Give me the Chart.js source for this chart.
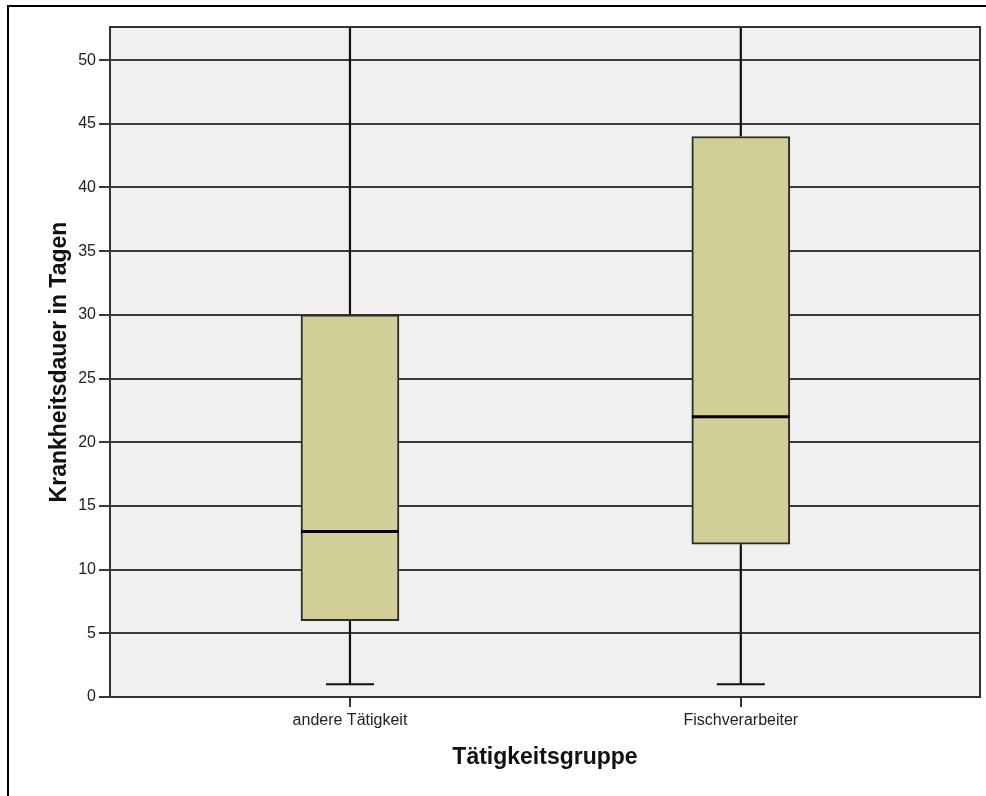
<!DOCTYPE html>
<html>
<head>
<meta charset="utf-8">
<script src="https://cdn.jsdelivr.net/npm/chart.js@4.4.1/dist/chart.umd.min.js"></script>
<style>
  body { margin: 0; background: #fff; }
  #wrap { position: relative; width: 986px; height: 796px; overflow: hidden; }
  #frame { position: absolute; left: 7px; top: 5px; width: 990px; height: 800px;
           border-top: 2px solid #000; border-left: 2px solid #000; pointer-events: none; }
</style>
</head>
<body>
<div id="wrap">
  <canvas id="box-chart" width="986" height="796"></canvas>
  <div id="frame"></div>
</div>
<script>
var categories = ['andere Tätigkeit', 'Fischverarbeiter'];
var whiskerLow = [1, 1];
var q1 = [6, 12];
var median = [13, 22];
var q3 = [30, 44];
var whiskerHigh = [52.6, 52.6];
var yMax = 52.6;
var yStep = 5;

var boxData = categories.map(function (c, i) {
  return { x: i + 1, y: [q1[i], q3[i]] };
});

var lineCol = '#333';

var boxExtras = {
  id: 'boxExtras',
  beforeDraw: function (chart) {
    var ctx = chart.ctx, a = chart.chartArea;
    ctx.save();
    ctx.fillStyle = '#f0f0f0';
    ctx.fillRect(a.left, a.top, a.right - a.left, a.bottom - a.top);
    ctx.restore();
  },
  beforeDatasetsDraw: function (chart) {
    var ctx = chart.ctx, a = chart.chartArea;
    var xs = chart.scales.x, ys = chart.scales.y;
    ctx.save();
    ctx.beginPath();
    ctx.rect(a.left, a.top, a.right - a.left, a.bottom - a.top);
    ctx.clip();
    ctx.strokeStyle = '#111';
    ctx.lineWidth = 2.2;
    for (var i = 0; i < categories.length; i++) {
      var cx = xs.getPixelForValue(i + 1);
      var lo = ys.getPixelForValue(whiskerLow[i]);
      var hi = ys.getPixelForValue(whiskerHigh[i]);
      var b1 = ys.getPixelForValue(q1[i]);
      var b3 = ys.getPixelForValue(q3[i]);
      ctx.beginPath();
      ctx.moveTo(cx, lo); ctx.lineTo(cx, b1);
      ctx.moveTo(cx, b3); ctx.lineTo(cx, hi);
      ctx.moveTo(cx - 24, lo); ctx.lineTo(cx + 24, lo);
      ctx.moveTo(cx - 24, hi); ctx.lineTo(cx + 24, hi);
      ctx.stroke();
    }
    ctx.restore();
  },
  afterDatasetsDraw: function (chart) {
    var ctx = chart.ctx;
    var xs = chart.scales.x, ys = chart.scales.y;
    var meta = chart.getDatasetMeta(0);
    ctx.save();
    ctx.strokeStyle = '#000';
    ctx.lineWidth = 3;
    for (var i = 0; i < categories.length; i++) {
      var cx = xs.getPixelForValue(i + 1);
      var w = meta.data[i].width;
      var my = ys.getPixelForValue(median[i]);
      ctx.beginPath();
      ctx.moveTo(cx - w / 2, my); ctx.lineTo(cx + w / 2, my);
      ctx.stroke();
    }
    ctx.restore();
  },
  afterDraw: function (chart) {
    var ctx = chart.ctx, a = chart.chartArea;
    ctx.save();
    ctx.strokeStyle = lineCol;
    ctx.lineWidth = 2;
    ctx.strokeRect(a.left, a.top, a.right - a.left, a.bottom - a.top);
    ctx.restore();
  }
};

new Chart(document.getElementById('box-chart'), {
  type: 'bar',
  data: {
    datasets: [{
      data: boxData,
      backgroundColor: '#d2ce97',
      borderColor: '#2b2b2b',
      borderWidth: 2,
      borderSkipped: false,
      barThickness: 98
    }]
  },
  options: {
    responsive: false,
    animation: false,
    devicePixelRatio: 1,
    layout: { padding: { top: 27, right: 6, left: 0, bottom: 0 } },
    plugins: { legend: { display: false }, tooltip: { enabled: false } },
    scales: {
      x: {
        type: 'linear',
        min: 0.386,
        max: 2.612,
        offset: false,
        afterFit: function (s) { s.height = 99; },
        afterBuildTicks: function (s) {
          s.ticks = categories.map(function (c, i) { return { value: i + 1 }; });
        },
        grid: { offset: false, drawOnChartArea: false, color: lineCol, lineWidth: 2, tickLength: 10 },
        border: { display: true, color: lineCol, width: 2 },
        ticks: {
          padding: 4,
          color: '#222',
          font: { family: '"Liberation Sans", Arial, sans-serif', size: 16 },
          callback: function (v) { return categories[v - 1]; }
        },
        title: {
          display: true,
          text: 'Tätigkeitsgruppe',
          color: '#111',
          padding: { top: 0, bottom: 25 },
          font: { family: '"Liberation Sans", Arial, sans-serif', size: 23, weight: 'bold' }
        }
      },
      y: {
        min: 0,
        max: yMax,
        afterFit: function (s) { s.width = 110; },
        grid: { color: '#3a3a3a', lineWidth: 2, tickLength: 11 },
        border: { display: true, color: lineCol, width: 2 },
        ticks: {
          stepSize: yStep,
          includeBounds: false,
          padding: 3,
          color: '#222',
          font: { family: '"Liberation Sans", Arial, sans-serif', size: 16 }
        },
        title: {
          display: true,
          text: 'Krankheitsdauer in Tagen',
          color: '#111',
          padding: { top: 46, bottom: 0 },
          font: { family: '"Liberation Sans", Arial, sans-serif', size: 23, weight: 'bold' }
        }
      }
    }
  },
  plugins: [boxExtras]
});
</script>
</body>
</html>
